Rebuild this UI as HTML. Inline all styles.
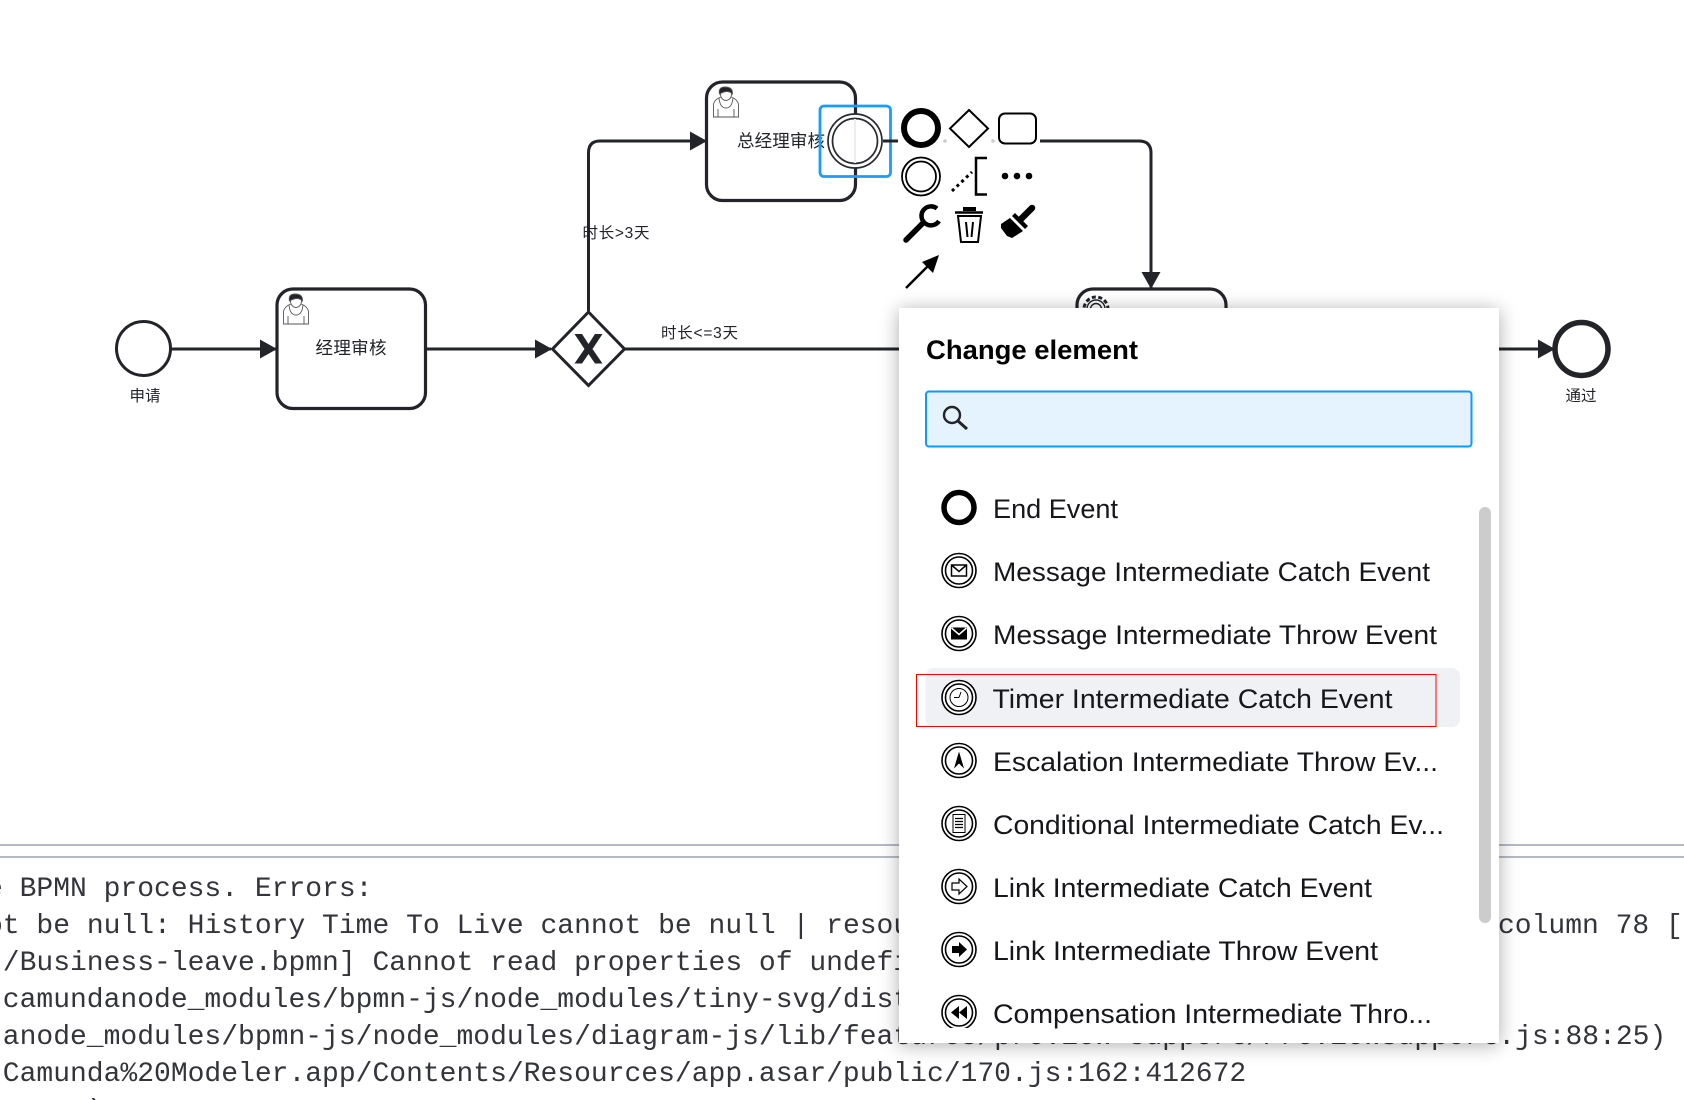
<!DOCTYPE html>
<html><head><meta charset="utf-8">
<style>
html,body{margin:0;padding:0;background:#fff;width:1684px;height:1100px;overflow:hidden}
svg{position:absolute;left:0;top:0}
.m{font-family:"Liberation Mono",monospace;font-size:28px;fill:#33353b;white-space:pre}
.c{font-family:"Liberation Sans","Noto Sans CJK SC",sans-serif;fill:#22242a}
.i{font-family:"Liberation Sans",sans-serif;font-size:27px;fill:#16171b}
.o{fill:#fff;stroke:#000;stroke-width:1.6}
.n{fill:#fff;stroke:#000;stroke-width:1.6}
#pop{position:absolute;left:899px;top:308px;width:600px;height:735px;background:#fff;box-shadow:0 2px 18px rgba(0,0,0,.32)}
</style></head><body>
<svg width="1684" height="1100" viewBox="0 0 1684 1100">
<defs>
<marker id="a" markerUnits="userSpaceOnUse" markerWidth="20" markerHeight="22" refX="16" refY="10" orient="auto"><path d="M0 0.5L17 10L0 19.500Z" fill="#22242a"/></marker>
</defs>
<line x1="0" y1="845" x2="1684" y2="845" stroke="#b6b8c4" stroke-width="2"/>
<line x1="0" y1="857" x2="1684" y2="857" stroke="#b6b8c4" stroke-width="2"/>
<text class="m" x="-14" y="896">e BPMN process. Errors:</text>
<text class="m" x="-14" y="933">ot be null: History Time To Live cannot be null | resource</text>
<text class="m" x="1498" y="933">column 78 [</text>
<text class="m" x="2.800" y="970">/Business-leave.bpmn] Cannot read properties of undefined</text>
<text class="m" x="2.800" y="1007">camundanode_modules/bpmn-js/node_modules/tiny-svg/dist</text>
<text class="m" x="2.800" y="1044">anode_modules/bpmn-js/node_modules/diagram-js/lib/features/preview-support/PreviewSupport.js:88:25)</text>
<text class="m" x="2.800" y="1081">Camunda%20Modeler.app/Contents/Resources/app.asar/public/170.js:162:412672</text>
<text class="m" x="87" y="1118">)</text>

<g fill="none" stroke="#22242a" stroke-width="3">
<line x1="171" y1="349" x2="276" y2="349" marker-end="url(#a)"/>
<line x1="426" y1="349" x2="551" y2="349" marker-end="url(#a)"/>
<path d="M588.500 311V153Q588.500 141 600 141H706" marker-end="url(#a)"/>
<line x1="625" y1="349" x2="900" y2="349"/>
<line x1="1498" y1="349" x2="1554" y2="349" marker-end="url(#a)"/>
<path d="M1040 141H1139Q1151 141 1151 153V288" marker-end="url(#a)"/>
</g>

<circle cx="143.500" cy="348.500" r="27" fill="#fff" stroke="#22242a" stroke-width="3"/>
<rect x="277" y="289" width="148.500" height="119.500" rx="16" fill="#fff" stroke="#22242a" stroke-width="3.200"/>
<rect x="706.500" y="82" width="149" height="118.500" rx="16" fill="#fff" stroke="#22242a" stroke-width="3.200"/>
<polygon points="588.500,312 624.500,349 588.500,385.500 552.500,349" fill="#fff" stroke="#22242a" stroke-width="3"/>
<polygon points="574.500,334 582,334 588.500,344 595,334 602.500,334 592.500,349 602.500,363.500 595,363.500 588.500,354 582,363.500 574.500,363.500 584.500,349" fill="#22242a"/>
<rect x="1077" y="289" width="149" height="120" rx="16" fill="#fff" stroke="#22242a" stroke-width="3.200"/>
<circle cx="1581.500" cy="349" r="26.500" fill="#fff" stroke="#22242a" stroke-width="5.500"/>

<g stroke="#555" stroke-width=".9" fill="#fff">
<path d="M283.500 324V311Q285 306 291 304H301Q307 306 308.500 311V324Z"/>
<path d="M289 305Q290 315 296 315Q302 315 303 305M288 316V324M304 316V324" fill="none"/>
<ellipse cx="296" cy="301" rx="5.500" ry="6.500"/>
<path d="M289.500 301Q288 294 295 294Q303 294 302.500 301Q298 296 289.500 301Z" fill="#22242a"/>
<path d="M713.500 117V104Q715 99 721 97H731Q737 99 738.500 104V117Z"/>
<path d="M719 98Q720 108 726 108Q732 108 733 98M718 109V117M734 109V117" fill="none"/>
<ellipse cx="726" cy="94" rx="5.500" ry="6.500"/>
<path d="M719.500 94Q718 87 725 87Q733 87 732.500 94Q728 89 719.500 94Z" fill="#22242a"/>
</g>
<g fill="#fff" stroke="#22242a" stroke-width="1.400">
<circle cx="1096" cy="309" r="12" stroke-dasharray="4 2.500" stroke-width="3"/>
<circle cx="1096" cy="309" r="9"/>
<circle cx="1096" cy="309" r="5.500"/>
</g>

<text class="c" font-size="15.500" x="145" y="401" text-anchor="middle">申请</text>
<text class="c" font-size="17.500" x="315.500" y="354" textLength="71">经理审核</text>
<text class="c" font-size="17.500" x="737" y="147" textLength="88">总经理审核</text>
<text class="c" font-size="15.500" x="582.500" y="238" textLength="67">时长&gt;3天</text>
<text class="c" font-size="15.500" x="661" y="338" textLength="77">时长&lt;=3天</text>
<text class="c" font-size="15.500" x="1581" y="401" text-anchor="middle">通过</text>

<!-- selected event -->
<circle cx="855" cy="141" r="27" fill="#fff" stroke="#2a2c32" stroke-width="1.700"/>
<circle cx="855" cy="141" r="22.500" fill="#fff" stroke="#2a2c32" stroke-width="1.700"/>
<line x1="855" y1="119" x2="855" y2="163" stroke="#eeeeee" stroke-width="2"/>
<rect x="820" y="106" width="70.500" height="70.500" rx="4" fill="none" stroke="#1a9cff" stroke-width="2.800"/>
<line x1="883" y1="141" x2="898" y2="141" stroke="#22242a" stroke-width="3"/>
<circle cx="945" cy="141" r="1.800" fill="#ccc"/><circle cx="993" cy="141" r="1.800" fill="#ccc"/>

<!-- context pad -->
<circle cx="921" cy="128" r="17" fill="#fff" stroke="#000" stroke-width="6"/>
<polygon points="969,110 988,128.500 969,147 950,128.500" fill="#fff" stroke="#000" stroke-width="2"/>
<rect x="999" y="113.500" width="37" height="30" rx="6" fill="#fff" stroke="#000" stroke-width="2"/>
<circle cx="921" cy="176.500" r="19" fill="#fff" stroke="#000" stroke-width="1.800"/>
<circle cx="921" cy="176.500" r="15" fill="#fff" stroke="#000" stroke-width="1.800"/>
<line x1="952" y1="191" x2="972" y2="172" stroke="#000" stroke-width="3" stroke-dasharray="3 3.500"/>
<path d="M987 158H976V194.500H987" fill="none" stroke="#000" stroke-width="2.500"/>
<circle cx="1005" cy="176" r="3.300"/><circle cx="1017" cy="176" r="3.300"/><circle cx="1029" cy="176" r="3.300"/>
<line x1="906" y1="240" x2="923" y2="223" stroke="#000" stroke-width="5.500" stroke-linecap="round"/>
<path d="M937 208.500A9.500 9.500 0 1 0 939 221" fill="none" stroke="#000" stroke-width="4.500"/>
<rect x="963" y="207" width="13" height="4" fill="#000"/>
<line x1="955" y1="212.500" x2="983" y2="212.500" stroke="#000" stroke-width="2.500"/>
<path d="M958 216L961 242H978L981 216Z" fill="#fff" stroke="#000" stroke-width="2"/>
<path d="M966 222L967.500 237M973 222L971.500 237" stroke="#000" stroke-width="2"/>
<line x1="1021" y1="219" x2="1032" y2="208" stroke="#000" stroke-width="6.500" stroke-linecap="round"/>
<polygon points="1015,213 1028,226 1025,229 1012,216"/>
<polygon points="1010,218 1023,231 1012,238 1007,236 1001,228 1001,224"/>
<line x1="906" y1="288" x2="930" y2="264" stroke="#000" stroke-width="2.500"/>
<polygon points="939,255 922,262 933,273"/>
</svg>

<div id="pop"></div>

<svg width="1684" height="1100" viewBox="0 0 1684 1100">
<defs><clipPath id="cl"><rect x="899" y="460" width="600" height="568"/></clipPath></defs>
<text x="926" y="359" font-family="Liberation Sans,sans-serif" font-weight="700" font-size="27" fill="#000" textLength="212" lengthAdjust="spacingAndGlyphs">Change element</text>
<rect x="926" y="391.500" width="545.500" height="55" rx="3" fill="#e5f3fe" stroke="#0d99ff" stroke-width="2"/>
<circle cx="952" cy="415" r="8" fill="none" stroke="#22242a" stroke-width="2.400"/>
<line x1="958" y1="421" x2="967" y2="429" stroke="#22242a" stroke-width="3"/>
<rect x="1479" y="507" width="12" height="416" rx="6" fill="#ccc"/>
<rect x="925.500" y="668" width="534.500" height="59" rx="8" fill="#f0f1f4"/>
<rect x="916.500" y="674.500" width="519.500" height="52" fill="none" stroke="#f00" stroke-width="1"/>
<g clip-path="url(#cl)">
<circle cx="959" cy="507.500" r="15" fill="#fff" stroke="#000" stroke-width="5.500"/>

<circle class="o" cx="959" cy="570.500" r="17"/><circle class="n" cx="959" cy="570.500" r="13.500"/>
<rect x="951.500" y="565" width="15" height="11" fill="none" stroke="#000" stroke-width="1.500"/><path d="M951.500 565L959 571.500L966.500 565" fill="none" stroke="#000" stroke-width="1.500"/>

<circle class="o" cx="959" cy="633.500" r="17"/><circle class="n" cx="959" cy="633.500" r="13.500"/>
<rect x="951" y="627.500" width="16" height="12"/><path d="M951.500 628L959 634.500L966.500 628" fill="none" stroke="#fff" stroke-width="1.500"/>

<circle class="o" cx="959" cy="697.500" r="17"/><circle class="n" cx="959" cy="697.500" r="13.500"/><circle cx="959" cy="697.500" r="9" fill="none" stroke="#000" stroke-width="1"/>
<path d="M959 697.500L961 692M959 697.500H954" stroke="#000" stroke-width="1" fill="none"/>

<circle class="o" cx="959" cy="760.500" r="17"/><circle class="n" cx="959" cy="760.500" r="13.500"/>
<polygon points="959,751.500 964,768.500 959,763.500 954,768.500"/>

<circle class="o" cx="959" cy="823.500" r="17"/><circle class="n" cx="959" cy="823.500" r="13.500"/>
<rect x="953" y="814.500" width="12" height="18" fill="#fff" stroke="#000" stroke-width="1"/>
<path d="M955 818.500H963M955 821.500H963M955 824.500H963M955 827.500H963" stroke="#000" stroke-width="1.200"/>

<circle class="o" cx="959" cy="886.500" r="17"/><circle class="n" cx="959" cy="886.500" r="13.500"/>
<polygon points="952,883 959,883 959,879 967,886.500 959,894 959,890 952,890" fill="#fff" stroke="#000" stroke-width="1.200"/>

<circle class="o" cx="959" cy="949.500" r="17"/><circle class="n" cx="959" cy="949.500" r="13.500"/>
<polygon points="952,946 959,946 959,942 967,949.500 959,957 959,953 952,953"/>

<circle class="o" cx="959" cy="1012.500" r="17"/><circle class="n" cx="959" cy="1012.500" r="13.500"/>
<polygon points="951,1012.500 959,1006 959,1019"/><polygon points="959,1012.500 967,1006 967,1019"/>
</g>
<text class="i" x="993" y="518" textLength="125" lengthAdjust="spacingAndGlyphs">End Event</text>
<text class="i" x="993" y="581" textLength="437" lengthAdjust="spacingAndGlyphs">Message Intermediate Catch Event</text>
<text class="i" x="993" y="644" textLength="444" lengthAdjust="spacingAndGlyphs">Message Intermediate Throw Event</text>
<text class="i" x="992.500" y="708" textLength="400" lengthAdjust="spacingAndGlyphs">Timer Intermediate Catch Event</text>
<text class="i" x="993" y="771" textLength="445" lengthAdjust="spacingAndGlyphs">Escalation Intermediate Throw Ev...</text>
<text class="i" x="993" y="834" textLength="451" lengthAdjust="spacingAndGlyphs">Conditional Intermediate Catch Ev...</text>
<text class="i" x="993" y="897" textLength="379" lengthAdjust="spacingAndGlyphs">Link Intermediate Catch Event</text>
<text class="i" x="993" y="960" textLength="385" lengthAdjust="spacingAndGlyphs">Link Intermediate Throw Event</text>
<text class="i" x="993" y="1023" textLength="439" lengthAdjust="spacingAndGlyphs">Compensation Intermediate Thro...</text>
</svg>
</body></html>
